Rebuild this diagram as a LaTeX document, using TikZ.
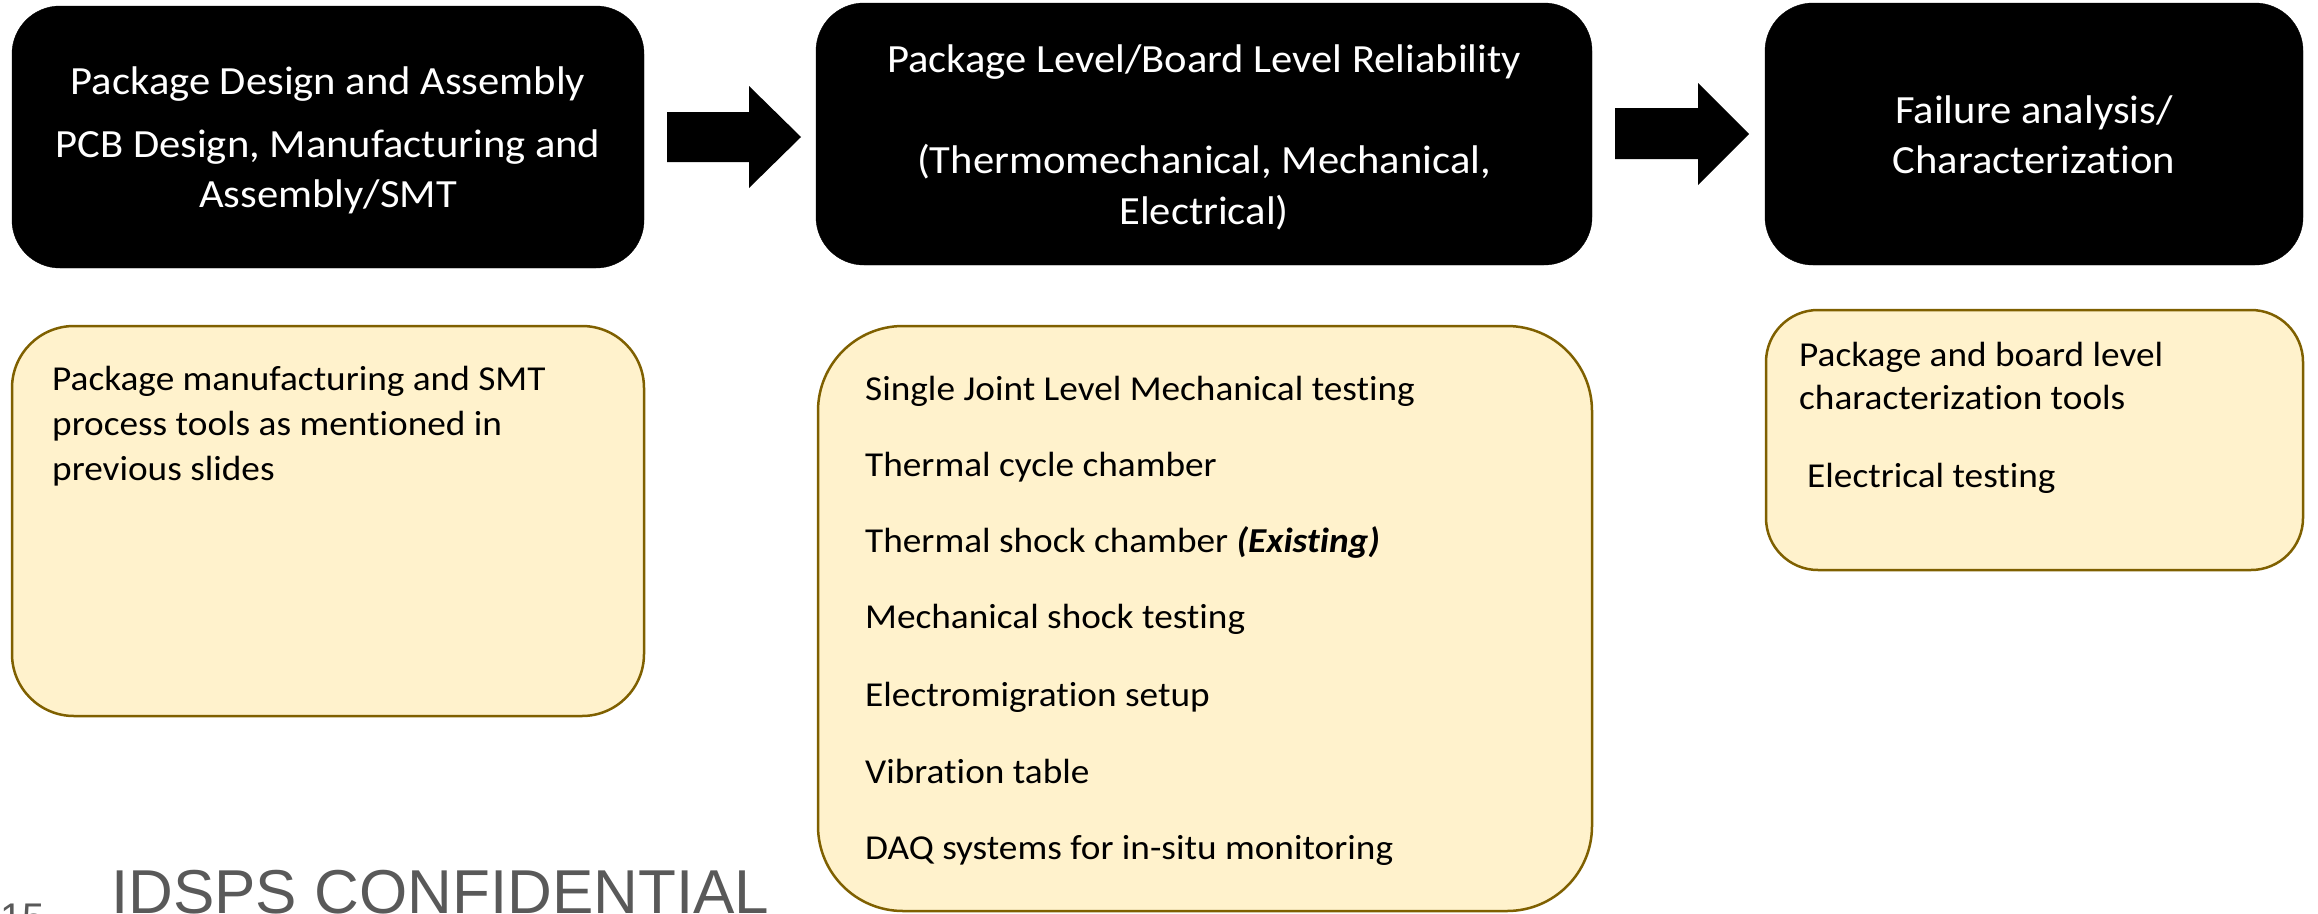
\documentclass[tikz,border=0pt]{standalone}
\usepackage{fontspec}
\setmainfont[FakeStretch=1.065,Ligatures=NoCommon]{Carlito}
\newfontfamily\arialfont{Liberation Sans}
\definecolor{boxfill}{HTML}{FFF2CC}
\definecolor{boxline}{HTML}{7F6000}
\definecolor{conf}{HTML}{595959}
\begin{document}
\begin{tikzpicture}[x=1pt,y=-1pt,
  blackbox/.style={fill=black,draw=black,rounded corners=48pt,inner sep=0pt},
  notebox/.style={fill=boxfill,draw=boxline,line width=2.5pt,inner sep=0pt},
  hdr/.style={text=white,anchor=base,inner sep=0pt,font=\fontsize{40}{48}\selectfont},
  item/.style={text=black,anchor=base west,inner sep=0pt,font=\fontsize{35}{42}\selectfont},
  blockarrow/.style={fill=black}]
\useasboundingbox (0,0) rectangle (2318,913);
\clip (0,0) rectangle (2318,913);
% header boxes
\node[blackbox,minimum width=632pt,minimum height=262pt] (b1) at (328,137) {};
\node[blackbox,minimum width=776pt,minimum height=262pt] (b2) at (1204,134) {};
\node[blackbox,minimum width=538pt,minimum height=262pt] (b3) at (2034,134) {};
% header texts
\node[hdr] (b1a) at (328,94) {Package Design and Assembly};
\node[hdr] (b1b) at (328,157) {PCB Design, Manufacturing and};
\node[hdr] (b1c) at (328,207) {Assembly/SMT};
\node[hdr] (b2a) at (1204,72) {Package Level/Board Level Reliability};
\node[hdr] (b2b) at (1204,173) {(Thermomechanical, Mechanical,};
\node[hdr] (b2c) at (1204,224) {Electrical)};
\node[hdr] (b3a) at (2034,123) {Failure analysis/};
\node[hdr] (b3b) at (2034,173) {Characterization};
% block arrows
\fill[blockarrow] (667,112) -- (749,112) -- (749,86) -- (801,137) -- (749,188) -- (749,162) -- (667,162) -- cycle;
\fill[blockarrow] (1615,108) -- (1698,108) -- (1698,83) -- (1749,134) -- (1698,185) -- (1698,159) -- (1615,159) -- cycle;
% note boxes
\node[notebox,rounded corners=62pt,minimum width=632pt,minimum height=390pt] (y1) at (328,521) {};
\node[notebox,rounded corners=85pt,minimum width=774pt,minimum height=585pt] (y2) at (1205,618.5) {};
\node[notebox,rounded corners=52pt,minimum width=537pt,minimum height=260pt] (y3) at (2034.5,440) {};
% note texts
\node[item] (y1a) at (52,390) {Package manufacturing and SMT};
\node[item] (y1b) at (52,435) {process tools as mentioned in};
\node[item] (y1c) at (52,480) {previous slides};
\node[item] (y2a) at (865,400) {Single Joint Level Mechanical testing};
\node[item] (y2b) at (865,476) {Thermal cycle chamber};
\node[item] (y2c) at (865,552) {Thermal shock chamber \textbf{\textit{(Existing)}}};
\node[item] (y2d) at (865,628) {Mechanical shock testing};
\node[item] (y2e) at (865,706) {Electromigration setup};
\node[item] (y2f) at (865,783) {Vibration table};
\node[item] (y2g) at (865,859) {DAQ systems for in-situ monitoring};
\node[item] (y3a) at (1799,366) {Package and board level};
\node[item] (y3b) at (1799,409) {characterization tools};
\node[item] (y3c) at (1807,487) {Electrical testing};
% footer
\node[anchor=base west,inner sep=0pt,text=conf,font=\arialfont\fontsize{62}{70}\selectfont] (conf) at (111,913) {IDSPS CONFIDENTIAL};
\node[anchor=base west,inner sep=0pt,text=conf,font=\arialfont\fontsize{40}{48}\selectfont] (pg) at (0,931) {15};
\end{tikzpicture}
\end{document}
